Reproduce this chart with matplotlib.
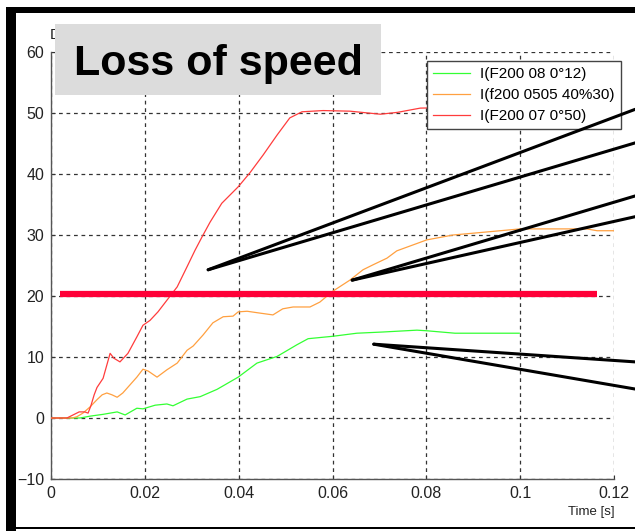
import matplotlib
matplotlib.use("Agg")
import matplotlib.pyplot as plt
from matplotlib.patches import Rectangle

# Datos (tiempo en s, corriente)
t_verde = [0, 0.0062, 0.0083, 0.0111, 0.0141, 0.0158, 0.0183, 0.0196, 0.0222, 0.0247, 0.026,
           0.029, 0.0318, 0.0354, 0.0399, 0.0439, 0.0482, 0.0524, 0.0548, 0.0601, 0.0652,
           0.0708, 0.078, 0.0801, 0.0861, 0.0998]
i_verde = [0, 0, 0.3, 0.6, 1.0, 0.5, 1.6, 1.5, 2.1, 2.3, 2.0,
           3.1, 3.5, 4.7, 6.7, 9.0, 10.1, 12.0, 13.0, 13.4, 13.9,
           14.1, 14.4, 14.3, 13.9, 13.9]

t_naranja = [0, 0.0045, 0.0055, 0.0068, 0.0083, 0.0098, 0.0109, 0.0119, 0.013, 0.0141, 0.0153,
             0.0168, 0.0183, 0.0196, 0.0207, 0.0226, 0.0247, 0.0269, 0.029, 0.0303, 0.0324,
             0.0345, 0.0367, 0.0388, 0.0399, 0.0418, 0.0445, 0.0473, 0.0494, 0.0516, 0.0552,
             0.0573, 0.0601, 0.0637, 0.0665, 0.0686, 0.0716, 0.0737, 0.0801, 0.0857, 0.0929,
             0.1, 0.1142, 0.1164, 0.12]
i_naranja = [0, 0, 0.2, 0.8, 1.8, 3.0, 3.8, 4.1, 3.8, 3.4, 4.1,
             5.4, 6.7, 8.0, 7.7, 6.7, 7.9, 9.0, 11.1, 11.8, 13.6,
             15.6, 16.6, 16.7, 17.4, 17.5, 17.2, 16.9, 17.9, 18.2, 18.2,
             19.0, 20.8, 22.6, 24.3, 25.1, 26.2, 27.4, 29.2, 30.0, 30.5,
             31.0, 31.0, 30.7, 30.7]

t_rojo = [0, 0.0034, 0.0047, 0.006, 0.0072, 0.0079, 0.0085, 0.0092, 0.0098, 0.0111, 0.0126,
          0.0134, 0.0147, 0.0164, 0.0183, 0.0196, 0.0211, 0.0228, 0.0249, 0.0269, 0.029,
          0.0307, 0.0322, 0.0339, 0.0364, 0.0399, 0.0424, 0.0452, 0.0482, 0.0509, 0.0535,
          0.058, 0.0637, 0.0702, 0.0738, 0.0787, 0.085, 0.1]
i_rojo = [0, 0, 0.5, 1.0, 1.0, 0.8, 2.0, 3.8, 5.0, 6.5, 10.6,
          9.8, 9.2, 10.6, 13.3, 15.2, 16.0, 17.4, 19.5, 21.5, 24.8,
          27.5, 29.7, 32.1, 35.2, 37.9, 40.2, 43.1, 46.4, 49.2, 50.2,
          50.4, 50.3, 49.8, 50.1, 50.8, 50.9, 51.0]

etiquetas = ["I(F200 08 0°12)", "I(f200 0505 40%30)", "I(F200 07 0°50)"]
colores = ["#33ff33", "#ffa040", "#ff3c3c"]

# Linea roja gruesa (nivel)
nivel = 20.3
nivel_t = [0.0019, 0.1164]

# Lineas negras de anotacion: (t0, i0) -> (t1, i1)
flechas = [
    (0.0335, 24.3, 0.1245, 50.6),
    (0.0335, 24.3, 0.1245, 45.1),
    (0.0642, 22.6, 0.1245, 36.4),
    (0.0642, 22.6, 0.1245, 33.0),
    (0.0688, 12.1, 0.1245, 9.2),
    (0.0688, 12.1, 0.1245, 4.75),
]

x_ticks = [0, 0.02, 0.04, 0.06, 0.08, 0.1, 0.12]
x_labels = ["0", "0.02", "0.04", "0.06", "0.08", "0.1", "0.12"]
y_ticks = [-10, 0, 10, 20, 30, 40, 50, 60]

plt.rcParams["font.family"] = ["Liberation Sans", "DejaVu Sans"]

fig = plt.figure(figsize=(6.35, 5.31), dpi=100)
W, H = 635.0, 531.0
ax = fig.add_axes([51 / W, 1 - 479 / H, 563 / W, 427 / H])

ax.plot(t_verde, i_verde, color=colores[0], lw=0.9, label=etiquetas[0], zorder=3)
ax.plot(t_naranja, i_naranja, color=colores[1], lw=0.9, label=etiquetas[1], zorder=3)
ax.plot(t_rojo, i_rojo, color=colores[2], lw=0.9, label=etiquetas[2], zorder=3)

ax.plot(nivel_t, [nivel, nivel], color="#ff0038", lw=4.5, solid_capstyle="butt", zorder=4)

for t0, y0, t1, y1 in flechas:
    ax.plot([t0, t1], [y0, y1], color="black", lw=2.2, solid_capstyle="round",
            clip_on=False, zorder=6)

ax.set_xlim(0, 0.12)
ax.set_ylim(-10, 60)
ax.set_xticks(x_ticks)
ax.set_xticklabels(x_labels)
ax.set_yticks(y_ticks)
ax.tick_params(direction="in", length=3, width=0.8, colors="#333333", labelsize=11.5,
               labelcolor="#222222", pad=5)
ax.grid(True, color="#333333", ls=(0, (3, 3)), lw=0.9)
for lado in ["top", "right"]:
    ax.spines[lado].set_visible(False)
for lado in ["left", "bottom"]:
    ax.spines[lado].set_color("#555555")
    ax.spines[lado].set_linewidth(1.0)

fig.text(615 / W, 1 - 512 / H, "Time [s]", ha="right", va="center", fontsize=9.5,
         color="#222222")

leg = ax.legend(loc="upper left", bbox_to_anchor=(427 / W, 1 - 61 / H),
                bbox_transform=fig.transFigure, fancybox=False, framealpha=1,
                edgecolor="#444444", fontsize=11, handlelength=2.4, handletextpad=0.7,
                borderpad=0.4, labelspacing=0.45, borderaxespad=0)
leg.get_frame().set_linewidth(1.0)
leg.set_zorder(5)

# Texto oculto detras del titulo
fig.text(50 / W, 1 - 35 / H, "D", fontsize=11, va="center", color="#222222")

# Caja del titulo
fig.patches.append(Rectangle((55 / W, 1 - 95 / H), 326 / W, 71 / H, transform=fig.transFigure,
                             facecolor="#dcdcdc", edgecolor="none", zorder=10))
fig.text(218 / W, 1 - 75 / H, "Loss of speed", ha="center", va="baseline", fontsize=31,
         fontweight="bold", zorder=11)

# Marco negro
fig.patches.append(Rectangle((6 / W, 0), 10 / W, 1 - 7 / H, transform=fig.transFigure,
                             facecolor="black", edgecolor="none", zorder=12))
fig.patches.append(Rectangle((6 / W, 1 - 13 / H), 629 / W, 6 / H, transform=fig.transFigure,
                             facecolor="black", edgecolor="none", zorder=12))
fig.patches.append(Rectangle((16 / W, 1 - 529 / H), 619 / W, 2 / H, transform=fig.transFigure,
                             facecolor="black", edgecolor="none", zorder=12))

fig.savefig("out.png", dpi=100)
